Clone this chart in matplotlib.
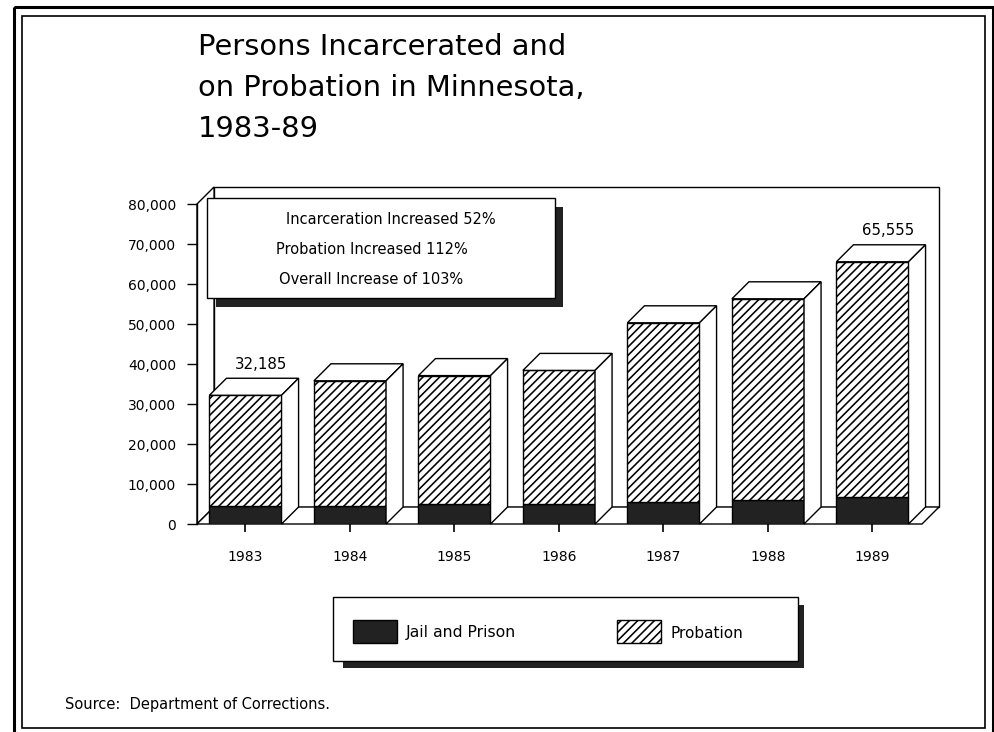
import numpy as np
import matplotlib
matplotlib.use("Agg")
import matplotlib.pyplot as plt
from matplotlib.patches import Rectangle, Polygon
from matplotlib.ticker import StrMethodFormatter

# data
years = ["1983", "1984", "1985", "1986", "1987", "1988", "1989"]
jail = [4400, 4600, 4900, 5000, 5600, 6100, 6700]
probation = [27785, 31200, 32200, 33400, 44700, 50200, 58855]
y_ticks = [0, 10000, 20000, 30000, 40000, 50000, 60000, 70000, 80000]
labelled = [0, 6]  # bars that carry their total
notes = ["Incarceration Increased 52%", "Probation Increased 112%",
         "Overall Increase of 103%"]
title_lines = ["Persons Incarcerated and", "on Probation in Minnesota,", "1983-89"]

plt.rcParams["hatch.linewidth"] = 1.15
TITLE_FONT = ["DejaVu Sans"]
SMALL_FONT = ["DejaVu Sans"]
DARK = "#222222"
HATCH = "////"

fig = plt.figure(figsize=(9.95, 7.32), dpi=100)
fig.patch.set_facecolor("white")

# main chart axes
ax = fig.add_axes([197 / 995, (732 - 524) / 732, (922 - 197) / 995, 320 / 732])
ax.patch.set_visible(False)
x = np.arange(len(years))
totals = np.array(jail) + np.array(probation)
width = 0.69
dx, dy = 0.163, 4250  # depth offset of the fake 3d
x_left, x_right = -0.464, 6.474
ax.set_xlim(x_left, x_right)
ax.set_ylim(0, 80000)

# walls and floor
top = y_ticks[-1]
ax.add_patch(Rectangle((x_left + dx, dy), x_right - x_left, top, facecolor="white",
                       edgecolor="black", lw=1.0, zorder=1, clip_on=False))
ax.add_patch(Polygon([(x_left, 0), (x_left + dx, dy), (x_left + dx, top + dy), (x_left, top)],
                     closed=True, facecolor="white", edgecolor="black", lw=1.0,
                     zorder=1, clip_on=False))
ax.add_patch(Polygon([(x_left, 0), (x_right, 0), (x_right + dx, dy), (x_left + dx, dy)],
                     closed=True, facecolor="white", edgecolor="black", lw=1.0,
                     zorder=1, clip_on=False))

ax.bar(x, jail, width=width, color=DARK, edgecolor="black", lw=1.0, zorder=3)
ax.bar(x, probation, width=width, bottom=jail, color="white", hatch=HATCH,
       edgecolor="black", lw=1.0, zorder=3)

for i in range(len(years)):
    x0, x1, h = x[i] - width / 2, x[i] + width / 2, totals[i]
    ax.fill([x0, x0 + dx, x1 + dx, x1], [h, h + dy, h + dy, h],
            facecolor="white", edgecolor="black", lw=1.0, zorder=3, clip_on=False)
    ax.fill([x1, x1 + dx, x1 + dx, x1], [0, dy, h + dy, h],
            facecolor="white", edgecolor="black", lw=1.0, zorder=3, clip_on=False)

for i in labelled:
    ax.text(x[i] + 0.148, totals[i] + dy + 3500, f"{totals[i]:,}", ha="center",
            va="center", fontsize=10.8, family=SMALL_FONT, zorder=5)

for s in ["top", "right", "bottom"]:
    ax.spines[s].set_visible(False)
ax.spines["left"].set_linewidth(1.0)
ax.set_yticks(y_ticks)
ax.yaxis.set_major_formatter(StrMethodFormatter("{x:,.0f}"))
ax.set_xticks(x)
ax.set_xticklabels(years)
ax.tick_params(axis="y", length=7, width=1.0, pad=8, labelsize=10)
ax.tick_params(axis="x", length=6, width=1.2, pad=13, labelsize=10)
for lab in ax.get_xticklabels() + ax.get_yticklabels():
    lab.set_family(SMALL_FONT)

# overlay in pixel coordinates for page furniture
deco = fig.add_axes([0, 0, 1, 1], zorder=5)
deco.set_xlim(0, 995)
deco.set_ylim(732, 0)
deco.axis("off")
deco.patch.set_visible(False)

deco.add_patch(Rectangle((14, 7), 979, 760, fill=False, edgecolor="black", lw=2.2))
deco.add_patch(Rectangle((22, 16), 963, 712, fill=False, edgecolor="black", lw=1.2))

for k, line in enumerate(title_lines):
    deco.text(198, 55 + 41 * k, line, fontsize=20.8, family=TITLE_FONT, va="baseline")

# notes box with shadow
deco.add_patch(Rectangle((216, 207), 347, 100, facecolor=DARK, edgecolor="none"))
deco.add_patch(Rectangle((207, 198), 348, 100, facecolor="white", edgecolor="black", lw=1.0))
for txt, cx, cy in zip(notes, [391, 372, 371], [219, 250, 279]):
    deco.text(cx, cy, txt, ha="center", va="center", fontsize=10.5, family=SMALL_FONT)

# legend box with shadow
deco.add_patch(Rectangle((343, 605), 461, 63, facecolor=DARK, edgecolor="none"))
deco.add_patch(Rectangle((333, 597), 465, 64, facecolor="white", edgecolor="black", lw=1.0))
deco.add_patch(Rectangle((353, 620), 44, 23, facecolor=DARK, edgecolor="black", lw=1.0))
deco.add_patch(Rectangle((617, 620), 44, 23, facecolor="white", hatch=HATCH,
                         edgecolor="black", lw=1.0))
deco.text(406, 633, "Jail and Prison", va="center", fontsize=11.3, family=SMALL_FONT)
deco.text(671, 633, "Probation", va="center", fontsize=11, family=SMALL_FONT)

deco.text(65, 705, "Source:  Department of Corrections.", va="center", fontsize=10.5,
          family=SMALL_FONT)

fig.savefig("out.png", dpi=100)
